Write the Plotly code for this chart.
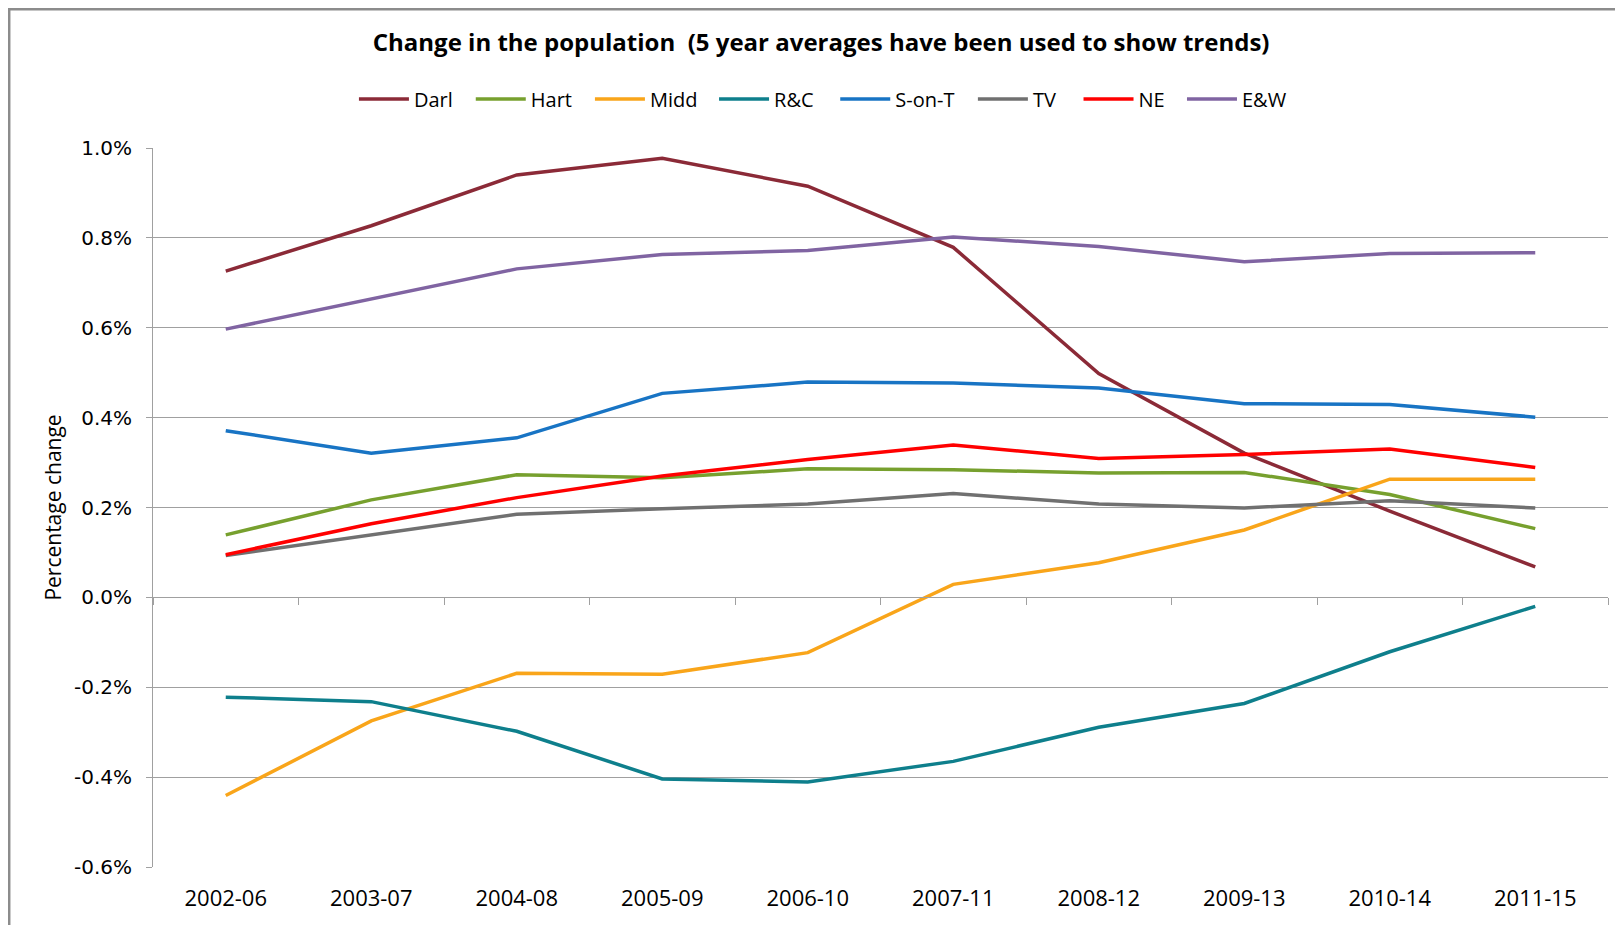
import plotly.graph_objects as go

periods = ["2002-06", "2003-07", "2004-08", "2005-09", "2006-10",
           "2007-11", "2008-12", "2009-13", "2010-14", "2011-15"]

darl = [0.726, 0.827, 0.940, 0.977, 0.915, 0.779, 0.498, 0.321, 0.192, 0.068]
hart = [0.139, 0.217, 0.273, 0.266, 0.286, 0.284, 0.277, 0.278, 0.229, 0.153]
midd = [-0.441, -0.275, -0.169, -0.171, -0.123, 0.029, 0.077, 0.150, 0.263, 0.263]
rc = [-0.222, -0.232, -0.298, -0.404, -0.411, -0.365, -0.289, -0.236, -0.121, -0.020]
sont = [0.371, 0.321, 0.355, 0.454, 0.479, 0.477, 0.466, 0.431, 0.429, 0.401]
tv = [0.093, 0.139, 0.185, 0.197, 0.208, 0.231, 0.208, 0.199, 0.215, 0.199]
ne = [0.095, 0.164, 0.222, 0.270, 0.307, 0.339, 0.309, 0.318, 0.330, 0.289]
ew = [0.597, 0.664, 0.731, 0.763, 0.772, 0.802, 0.781, 0.747, 0.765, 0.767]

series_names = ["Darl", "Hart", "Midd", "R&C", "S-on-T", "TV", "NE", "E&W"]
series_values = [darl, hart, midd, rc, sont, tv, ne, ew]
series_colors = ["#8b2a37", "#77a02e", "#f9a51a", "#0e7f8c", "#1874c4",
                 "#707070", "#ff0000", "#8064a2"]

y_ticks = [-0.6, -0.4, -0.2, 0.0, 0.2, 0.4, 0.6, 0.8, 1.0]

FONT = "'Open Sans', Lato, sans-serif"

# left positions (paper fraction) of each legend entry, one legend per series
legend_x = [0.1381, 0.2184, 0.3003, 0.3856, 0.4689, 0.5635, 0.6361, 0.7072]

fig = go.Figure()
legend_layout = {}
for i, (name, vals, col) in enumerate(zip(series_names, series_values, series_colors)):
    key = "legend" if i == 0 else f"legend{i + 1}"
    fig.add_trace(go.Scatter(x=periods, y=vals, name=name, mode="lines",
                             legend=key,
                             line=dict(color=col, width=3.5)))
    legend_layout[key] = dict(orientation="h", x=legend_x[i], xanchor="left",
                              y=1.068, yanchor="middle",
                              font=dict(family=FONT, size=20, color="black"),
                              itemwidth=50, bgcolor="rgba(0,0,0,0)")

# invisible helper trace for the category axis drawn at zero
fig.add_trace(go.Scatter(x=periods, y=[None] * len(periods), xaxis="x2",
                         showlegend=False, hoverinfo="skip", mode="lines"))

y_min, y_max = y_ticks[0], y_ticks[-1]
zero_pos = (0 - y_min) / (y_max - y_min)
x_range = [-0.5, len(periods) - 0.5]

fig.update_layout(
    width=1623, height=925,
    paper_bgcolor="white", plot_bgcolor="white",
    margin=dict(l=145, r=23, t=140, b=66, autoexpand=False),
    title=dict(text="<b>Change in the population  (5 year averages have been used to show trends)</b>",
               x=0.501, xanchor="center", y=0.963, yanchor="middle",
               font=dict(family=FONT, size=24, color="black")),
    xaxis=dict(type="category", range=x_range, showgrid=False, showline=False, ticks="",
               tickfont=dict(family=FONT, size=22, color="black"),
               ticklabelstandoff=16, zeroline=False, automargin=False),
    xaxis2=dict(type="category", range=x_range, overlaying="x", anchor="free", position=zero_pos,
                side="bottom", showline=True, linecolor="#a0a0a0", linewidth=1,
                ticks="outside", tickson="boundaries", ticklen=7, tickcolor="#a0a0a0",
                showticklabels=False, showgrid=False, zeroline=False, automargin=False),
    yaxis=dict(range=[y_min, y_max], tickvals=y_ticks,
               ticktext=[f"{v:.1f}%" for v in y_ticks],
               showgrid=True, gridcolor="#a0a0a0", gridwidth=1,
               showline=True, linecolor="#a0a0a0", linewidth=1,
               ticks="outside", ticklen=6, tickcolor="#a0a0a0",
               zeroline=False, automargin=False, ticklabelstandoff=10,
               tickfont=dict(family="DejaVu Sans, Verdana, sans-serif", size=20, color="black"),
               title=dict(text="Percentage change", standoff=6,
                          font=dict(family=FONT, size=21, color="black"))),
    shapes=[dict(type="rect", xref="paper", yref="paper",
                 x0=-0.099, x1=1.03, y0=-0.12, y1=1.1933,
                 line=dict(color="#8c8c8c", width=3), layer="below")],
    **legend_layout,
)

fig.write_html("out.html")
